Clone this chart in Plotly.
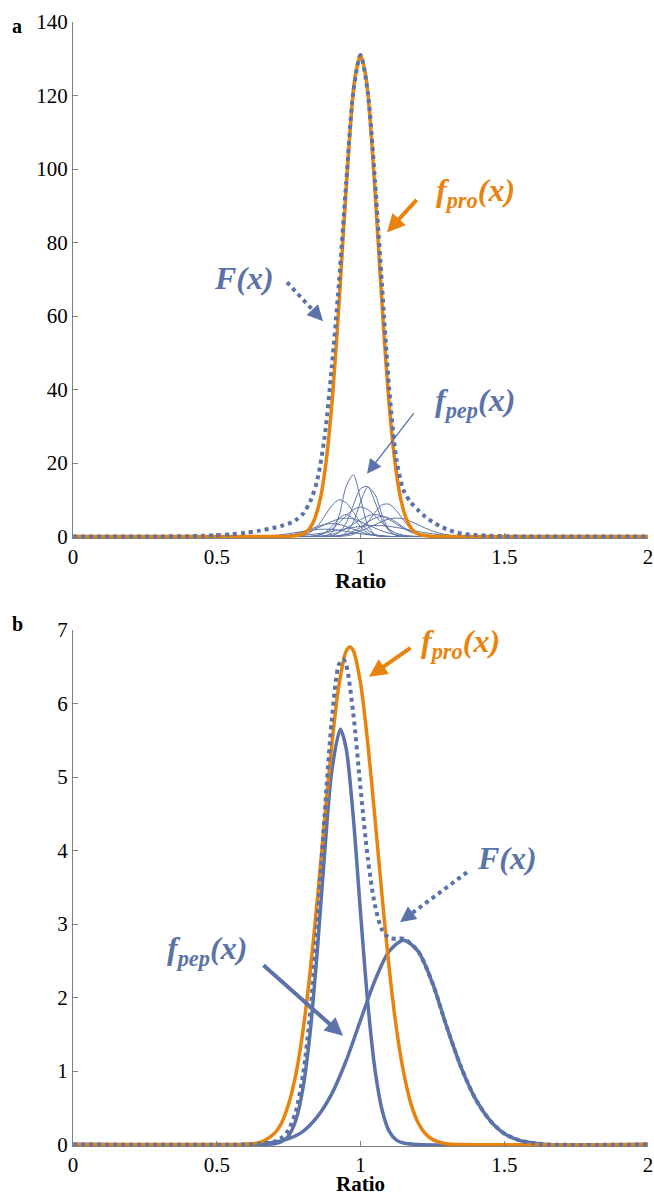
import plotly.graph_objects as go

W, H = 654, 1198
BLUE = "#5b73a8"
ORANGE = "#e8840e"
FONT = "Liberation Serif"

# ---------------- Panel a data ----------------
ORANGE_A_X = [0, 0.6, 0.7, 0.75, 0.8, 0.82, 0.84, 0.86, 0.88, 0.9, 0.92, 0.94, 0.96, 0.98, 1.0,
              1.02, 1.04, 1.06, 1.08, 1.1, 1.12, 1.14, 1.16, 1.18, 1.2, 1.25, 1.3, 1.4, 2.0]
ORANGE_A_Y = [0, 0, 0, 0.04, 0.72, 1.9, 4.7, 10.2, 20.1, 35.7, 57.0, 82.0, 106.4, 124.4, 131.0,
              124.4, 106.4, 82.0, 57.0, 35.7, 20.1, 10.2, 4.7, 1.9, 0.72, 0.04, 0, 0, 0]

F_A_X = [0, 0.3, 0.4, 0.45, 0.5, 0.55, 0.6, 0.65, 0.7, 0.725, 0.75, 0.775, 0.8, 0.825, 0.85, 0.875,
         0.9, 0.925, 0.95, 0.975, 1.0, 1.025, 1.05, 1.075, 1.1, 1.125, 1.15, 1.175, 1.2, 1.225,
         1.25, 1.275, 1.3, 1.325, 1.35, 1.4, 1.45, 1.5, 1.6, 2.0]
F_A_Y = [0, 0.03, 0.1, 0.2, 0.35, 0.6, 1.0, 1.6, 2.4, 2.9, 3.5, 4.5, 6.2, 9.5, 15.5, 27.0,
         46.0, 69.0, 96.0, 121.0, 131.0, 121.0, 97.0, 68.0, 40.0, 21.0, 12.5, 9.3, 7.2, 5.4,
         4.0, 2.9, 2.0, 1.3, 0.8, 0.4, 0.2, 0.08, 0.02, 0]

PEP_A_X = [0.700, 0.725, 0.750, 0.775, 0.800, 0.825, 0.850, 0.875, 0.900, 0.925, 0.950, 0.975,
           1.000, 1.025, 1.050, 1.075, 1.100, 1.125, 1.150, 1.175, 1.200, 1.225, 1.250, 1.275,
           1.300, 1.325, 1.350]
PEP_A_1 = [0, 0, 0, 0, 0, 0, 0, 0.1, 1.1, 5.5, 13.6, 16.8, 10.3, 3.2, 0.5, 0.1, 0, 0, 0, 0, 0, 0, 0, 0, 0, 0, 0]
PEP_A_2 = [0, 0, 0, 0, 0, 0, 0, 0, 0.2, 1.1, 3.7, 8.5, 13.0, 13.6, 9.5, 4.5, 1.5, 0.3, 0, 0, 0, 0, 0, 0, 0, 0, 0]
PEP_A_3 = [0, 0, 0, 0, 0, 0, 0, 0, 0, 0.15, 1.0, 3.9, 9.4, 13.4, 11.5, 5.9, 1.8, 0.3, 0, 0, 0, 0, 0, 0, 0, 0, 0]
PEP_A_4 = [0, 0, 0, 0, 0.3, 1.1, 2.8, 5.5, 8.4, 10.0, 9.2, 6.7, 3.8, 1.7, 0.6, 0.15, 0, 0, 0, 0, 0, 0, 0, 0, 0, 0, 0]
PEP_A_5 = [0, 0, 0, 0, 0, 0, 0, 0, 0, 0, 0.2, 0.6, 1.8, 3.9, 6.5, 8.6, 8.8, 7.0, 4.4, 2.1, 0.8, 0.2, 0, 0, 0, 0, 0]
PEP_A_6 = [0, 0, 0, 0, 0, 0.1, 0.35, 0.9, 2.0, 3.7, 5.7, 7.3, 8.0, 7.3, 5.7, 3.7, 2.0, 0.9, 0.35, 0.1, 0, 0, 0, 0, 0, 0, 0]
PEP_A_7 = [0, 0, 0, 0, 0, 0, 0.1, 0.26, 0.6, 1.2, 2.2, 3.4, 4.6, 5.6, 6.0, 5.6, 4.6, 3.4, 2.2, 1.2, 0.6, 0.26, 0.1, 0, 0, 0, 0]
PEP_A_8 = [0, 0.1, 0.2, 0.5, 0.9, 1.5, 2.3, 3.2, 4.1, 4.8, 5.0, 4.8, 4.1, 3.2, 2.3, 1.5, 0.9, 0.5, 0.2, 0.1, 0, 0, 0, 0, 0, 0, 0]
PEP_A_9 = [0, 0, 0, 0, 0, 0, 0, 0, 0.1, 0.2, 0.5, 0.9, 1.5, 2.3, 3.2, 4.1, 4.8, 5.0, 4.8, 4.1, 3.2, 2.3, 1.5, 0.9, 0.5, 0.2, 0.1]
PEP_A_10 = [0.06, 0.15, 0.35, 0.7, 1.3, 2.0, 2.7, 3.3, 3.5, 3.3, 2.7, 2.0, 1.3, 0.7, 0.35, 0.15, 0.06, 0, 0, 0, 0, 0, 0, 0, 0, 0, 0]
PEP_A_11 = [0, 0, 0.13, 0.22, 0.34, 0.52, 0.75, 1.04, 1.37, 1.74, 2.12, 2.47, 2.75, 2.94, 3.0, 2.94, 2.75, 2.47, 2.12, 1.74, 1.37, 1.04, 0.75, 0.52, 0.34, 0.22, 0.13]
PEP_A_12 = [0.3, 0.5, 0.76, 1.08, 1.41, 1.71, 1.92, 2.0, 1.92, 1.71, 1.41, 1.08, 0.76, 0.5, 0.3, 0.17, 0, 0, 0, 0, 0, 0, 0, 0, 0, 0, 0]
PEP_A_13 = [0, 0, 0, 0, 0, 0, 0, 0, 0.08, 0.24, 0.6, 1.4, 2.5, 3.9, 5.0, 5.5, 5.0, 3.9, 2.5, 1.4, 0.6, 0.24, 0.08, 0, 0, 0, 0]
PEP_A_14 = [0, 0, 0, 0, 0, 0, 0.26, 1.0, 2.7, 4.9, 6.0, 4.9, 2.7, 1.0, 0.26, 0, 0, 0, 0, 0, 0, 0, 0, 0, 0, 0, 0]
PEPTIDES_A = [PEP_A_1, PEP_A_2, PEP_A_3, PEP_A_4, PEP_A_5, PEP_A_6, PEP_A_7, PEP_A_8, PEP_A_9,
              PEP_A_10, PEP_A_11, PEP_A_12, PEP_A_13, PEP_A_14]

# ---------------- Panel b data ----------------
ORANGE_B_X = [0, 0.55, 0.6, 0.65, 0.7, 0.725, 0.75, 0.775, 0.8, 0.825, 0.85, 0.875, 0.9, 0.925, 0.95,
              0.963, 0.975, 1.0, 1.025, 1.05, 1.075, 1.1, 1.125, 1.15, 1.175, 1.2, 1.225, 1.25, 1.3, 1.35, 2.0]
ORANGE_B_Y = [0, 0, 0.005, 0.03, 0.15, 0.29, 0.55, 0.95, 1.55, 2.36, 3.34, 4.41, 5.43, 6.25, 6.71,
              6.77, 6.72, 6.28, 5.47, 4.45, 3.38, 2.39, 1.58, 0.98, 0.56, 0.30, 0.15, 0.07, 0.01, 0, 0]

PEP1_B_X = [0, 0.65, 0.7, 0.725, 0.75, 0.775, 0.8, 0.825, 0.85, 0.875, 0.9, 0.93, 0.95, 0.975,
            1.0, 1.025, 1.05, 1.075, 1.1, 1.125, 1.15, 1.2, 2.0]
PEP1_B_Y = [0, 0, 0.01, 0.04, 0.12, 0.33, 0.77, 1.53, 2.65, 3.95, 5.08, 5.65, 5.39, 4.45,
            3.16, 1.94, 1.03, 0.47, 0.18, 0.06, 0.02, 0, 0]

PEP2_B_X = [0, 0.6, 0.65, 0.7, 0.75, 0.8, 0.85, 0.9, 0.95, 1.0, 1.05, 1.1, 1.15, 1.2, 1.25, 1.3,
            1.35, 1.4, 1.45, 1.5, 1.55, 1.6, 1.65, 2.0]
PEP2_B_Y = [0, 0, 0.01, 0.03, 0.08, 0.18, 0.38, 0.69, 1.14, 1.69, 2.23, 2.63, 2.78, 2.63, 2.2, 1.6,
            1.05, 0.62, 0.33, 0.15, 0.06, 0.02, 0, 0]

F_B_X = [0, 0.6, 0.65, 0.7, 0.725, 0.75, 0.775, 0.8, 0.825, 0.85, 0.875, 0.9, 0.925, 0.94, 0.95,
         0.975, 1.0, 1.025, 1.05, 1.075, 1.1, 1.125, 1.15, 1.2, 1.25, 1.3, 1.35, 1.4, 1.45, 1.5,
         1.55, 1.6, 1.65, 2.0]
F_B_Y = [0, 0, 0.01, 0.04, 0.09, 0.2, 0.45, 0.95, 1.79, 3.03, 4.47, 5.77, 6.53, 6.6, 6.53,
         5.86, 4.85, 3.91, 3.26, 2.92, 2.81, 2.8, 2.8, 2.63, 2.2, 1.6, 1.05, 0.62, 0.33, 0.15,
         0.06, 0.02, 0, 0]

X_TICKS = [0, 0.5, 1, 1.5, 2]
X_TICK_TEXT = ["0", "0.5", "1", "1.5", "2"]
Y_TICKS_A = [0, 20, 40, 60, 80, 100, 120, 140]
Y_TICKS_B = [0, 1, 2, 3, 4, 5, 6, 7]

# ---------------- geometry (page pixels) ----------------
PX_L, PX_R = 73, 648
A_TOP, A_BOT = 22, 538
B_TOP, B_BOT = 630, 1146


def px(x):
    return x / W


def py(y):
    return 1 - y / H


fig = go.Figure()

# panel a traces
for pep in PEPTIDES_A:
    fig.add_trace(go.Scatter(x=[0] + PEP_A_X + [2.0], y=[0] + pep + [0], mode="lines",
                             line=dict(color=BLUE, width=1, shape="spline", smoothing=0.8),
                             xaxis="x", yaxis="y", hoverinfo="skip"))
fig.add_trace(go.Scatter(x=ORANGE_A_X, y=ORANGE_A_Y, mode="lines",
                         line=dict(color=ORANGE, width=3.5, shape="spline", smoothing=0.8),
                         xaxis="x", yaxis="y"))
fig.add_trace(go.Scatter(x=F_A_X, y=F_A_Y, mode="lines",
                         line=dict(color=BLUE, width=4, dash="dot", shape="spline", smoothing=0.8),
                         xaxis="x", yaxis="y"))

# panel b traces
fig.add_trace(go.Scatter(x=PEP1_B_X, y=PEP1_B_Y, mode="lines",
                         line=dict(color=BLUE, width=3.5, shape="spline", smoothing=0.8),
                         xaxis="x2", yaxis="y2"))
fig.add_trace(go.Scatter(x=PEP2_B_X, y=PEP2_B_Y, mode="lines",
                         line=dict(color=BLUE, width=3.5, shape="spline", smoothing=0.8),
                         xaxis="x2", yaxis="y2"))
fig.add_trace(go.Scatter(x=ORANGE_B_X, y=ORANGE_B_Y, mode="lines",
                         line=dict(color=ORANGE, width=3.5, shape="spline", smoothing=0.8),
                         xaxis="x2", yaxis="y2"))
fig.add_trace(go.Scatter(x=F_B_X, y=F_B_Y, mode="lines",
                         line=dict(color=BLUE, width=4, dash="dot", shape="spline", smoothing=0.8),
                         xaxis="x2", yaxis="y2"))

axis_common = dict(showgrid=False, zeroline=False, showline=True, linecolor="#808080", linewidth=1,
                   ticks="inside", ticklen=5, tickcolor="#808080", tickwidth=1, automargin=False,
                   ticklabeloverflow="allow",
                   tickfont=dict(family=FONT, size=21, color="black"))

fig.update_layout(
    template="none",
    width=W, height=H, showlegend=False,
    paper_bgcolor="white", plot_bgcolor="white",
    margin=dict(l=0, r=0, t=0, b=0, autoexpand=False),
    xaxis=dict(domain=[px(PX_L), px(PX_R)], range=[0, 2], anchor="y",
               tickvals=X_TICKS, ticktext=X_TICK_TEXT, **axis_common),
    yaxis=dict(domain=[py(A_BOT), py(A_TOP)], range=[-0.4, 140], anchor="x",
               tickvals=Y_TICKS_A, **axis_common),
    xaxis2=dict(domain=[px(PX_L), px(PX_R)], range=[0, 2], anchor="y2",
                tickvals=X_TICKS, ticktext=X_TICK_TEXT, **axis_common),
    yaxis2=dict(domain=[py(B_BOT), py(B_TOP)], range=[-0.02, 7], anchor="x2",
                tickvals=Y_TICKS_B, **axis_common),
)


def txt(x, y, s, size, color, bold=True, italic=False, yanchor="middle"):
    t = s
    if italic:
        t = "<i>" + t + "</i>"
    if bold:
        t = "<b>" + t + "</b>"
    fig.add_annotation(x=px(x), y=py(y), xref="paper", yref="paper", text=t, showarrow=False,
                       font=dict(family=FONT, size=size, color=color), xanchor="center",
                       yanchor=yanchor)


# panel labels & axis titles
txt(17, 26, "a", 20, "black")
txt(17, 624, "b", 20, "black")
txt(360, 580, "Ratio", 22, "black")
txt(360, 1198, "Ratio", 21, "black", yanchor="bottom")

# curve labels
txt(244, 278, "F(x)", 32, BLUE, italic=True)
txt(475, 192, "f<sub>pro</sub>(x)", 32, ORANGE, italic=True)
txt(475, 402, "f<sub>pep</sub>(x)", 32, BLUE, italic=True)
txt(460, 643, "f<sub>pro</sub>(x)", 32, ORANGE, italic=True)
txt(507, 858, "F(x)", 32, BLUE, italic=True)
txt(207, 950, "f<sub>pep</sub>(x)", 32, BLUE, italic=True)


def dx(p):
    return (p - PX_L) / ((PX_R - PX_L) / 2)


def dya(p):
    return (A_BOT - p) / ((A_BOT - A_TOP) / 140)


def dyb(p):
    return (B_BOT - p) / ((B_BOT - B_TOP) / 7)


def solid_arrow(head, tail, color, width, xr, yr, conv, size):
    fig.add_annotation(x=dx(head[0]), y=conv(head[1]), xref=xr, yref=yr,
                       ax=tail[0] - head[0], ay=tail[1] - head[1], axref="pixel", ayref="pixel",
                       text="", showarrow=True, arrowhead=2, arrowsize=size,
                       arrowwidth=width, arrowcolor=color)


def dotted_arrow(head, tail, color, xr, yr, conv):
    vx, vy = tail[0] - head[0], tail[1] - head[1]
    n = (vx ** 2 + vy ** 2) ** 0.5
    ux, uy = vx / n, vy / n
    mid = (head[0] + ux * 12, head[1] + uy * 12)
    fig.add_shape(type="line", xref=xr, yref=yr,
                  x0=dx(tail[0]), y0=conv(tail[1]), x1=dx(mid[0]), y1=conv(mid[1]),
                  line=dict(color=color, width=4, dash="dot"))
    fig.add_annotation(x=dx(head[0]), y=conv(head[1]), xref=xr, yref=yr,
                       ax=ux * 16, ay=uy * 16, axref="pixel", ayref="pixel",
                       text="", showarrow=True, arrowhead=2, arrowsize=0.9,
                       arrowwidth=3.5, arrowcolor=color)


# panel a arrows
dotted_arrow((323, 322), (287, 283), BLUE, "x", "y", dya)
solid_arrow((387, 233), (418, 199), ORANGE, 4, "x", "y", dya, 0.9)
solid_arrow((367, 475), (415, 413), BLUE, 1.3, "x", "y", dya, 2.2)
# panel b arrows
solid_arrow((369, 677), (412, 647), ORANGE, 4, "x2", "y2", dyb, 0.9)
dotted_arrow((400, 923), (467, 873), BLUE, "x2", "y2", dyb)
solid_arrow((343, 1037), (262, 965), BLUE, 4, "x2", "y2", dyb, 0.9)

fig.write_html("out.html", config={"displayModeBar": False},
               post_script="document.body.style.margin='0';document.body.style.overflow='hidden';")
